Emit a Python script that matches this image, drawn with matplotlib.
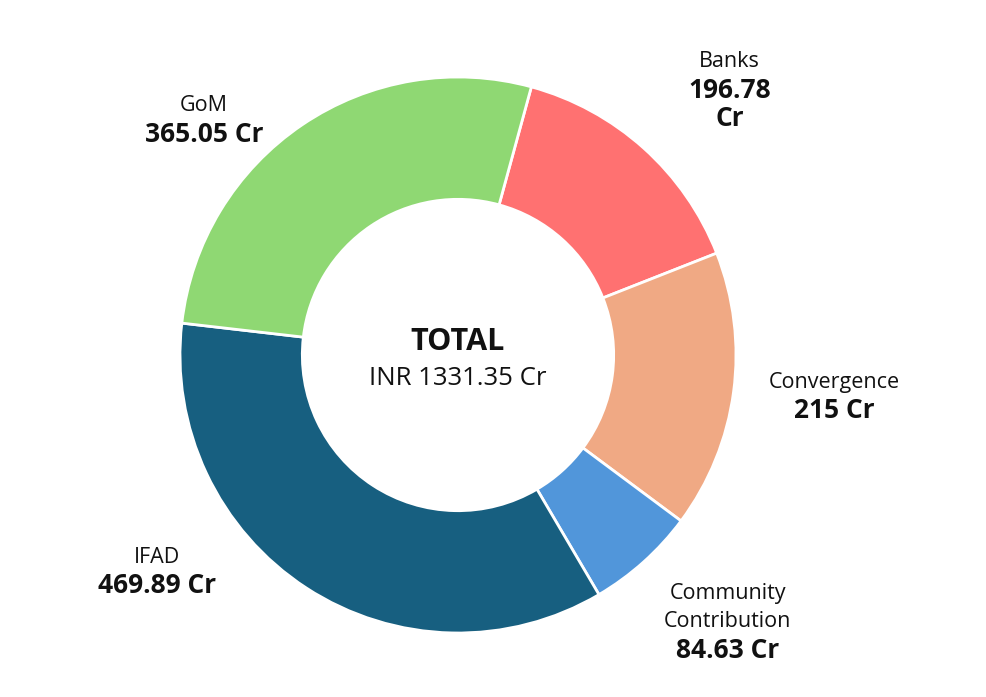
import numpy as np
import matplotlib
matplotlib.use("Agg")
from matplotlib import pyplot as plt

plt.rcParams['font.family'] = ['Open Sans', 'DejaVu Sans']

# data
categories = ["Banks", "Convergence", "Community\nContribution", "IFAD", "GoM"]
values = [196.78, 215, 84.63, 469.89, 365.05]
value_labels = ["196.78\nCr", "215 Cr", "84.63 Cr", "469.89 Cr", "365.05 Cr"]
colors = ["#FF7171", "#F0A984", "#5196DA", "#175F80", "#8FD873"]
total_text = "INR 1331.35 Cr"

# label anchors (angle clockwise from top in degrees, distance in radii)
label_pos = [(45.5, 1.37), (96.0, 1.36), (134.5, 1.36), (234.5, 1.33), (313.0, 1.25)]

fig = plt.figure(figsize=(9.86, 6.97), dpi=100)
ax = fig.add_axes([0, 0, 1, 1])

cx, cy, r_px = 458, 355, 278
ax.pie(values, colors=colors, startangle=74.7, counterclock=False, radius=1.0,
       wedgeprops=dict(width=0.44, edgecolor='white', linewidth=2))
ax.set_xlim(-cx / r_px, (986 - cx) / r_px)
ax.set_ylim(-(697 - cy) / r_px, cy / r_px)
ax.set_aspect('auto')
ax.axis('off')

step = 28.5 / r_px
for name, val, (ang, dist) in zip(categories, value_labels, label_pos):
    a = np.deg2rad(ang)
    x, y = dist * np.sin(a), dist * np.cos(a) - 2 / r_px
    lines = [(s, False) for s in name.split("\n")] + [(s, True) for s in val.split("\n")]
    y0 = y + step * (len(lines) - 1) / 2
    for i, (s, bold) in enumerate(lines):
        ax.text(x, y0 - i * step, s, ha='center', va='center',
                fontsize=19 if bold else 15.5,
                fontweight='bold' if bold else 'normal', color='#111111')

ax.text(0, 0.045, "TOTAL", ha='center', va='center', fontsize=22, fontweight='bold',
        color='#111111')
ax.text(0, -0.085, total_text, ha='center', va='center', fontsize=18.5, color='#111111')

fig.savefig("out.png", dpi=100)
